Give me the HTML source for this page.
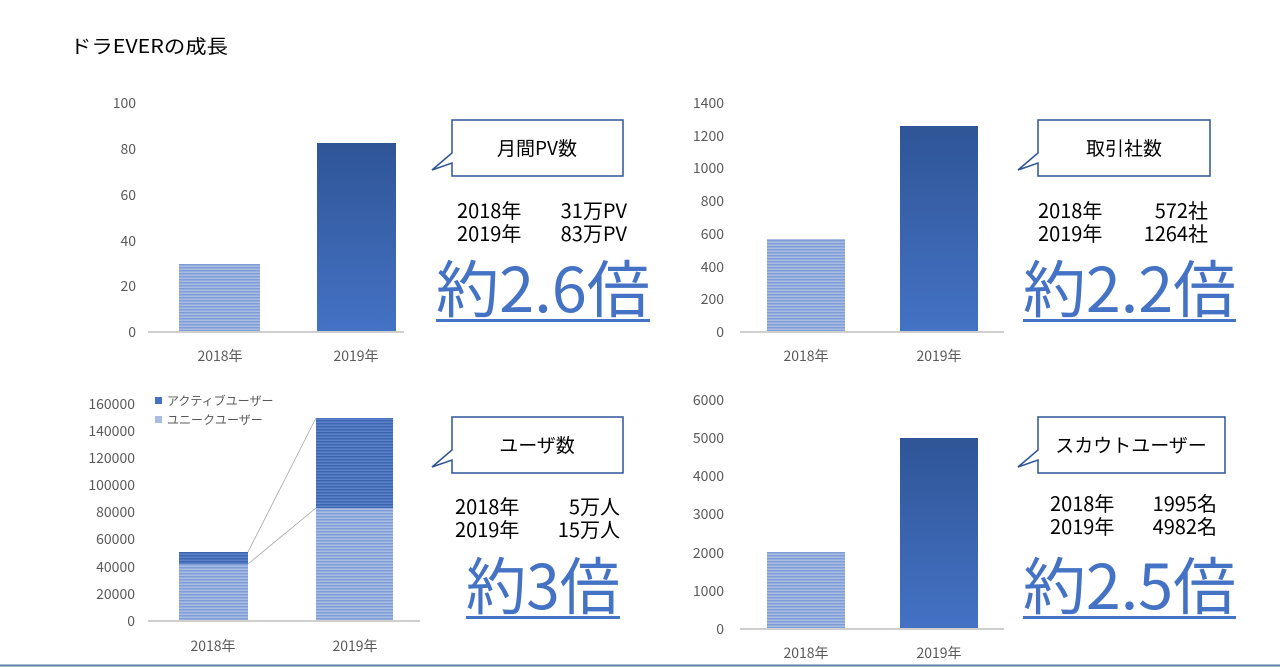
<!DOCTYPE html>
<html><head><meta charset="utf-8"><style>
html,body{margin:0;padding:0;background:#fff;}
svg{display:block;font-family:"Noto Sans CJK JP","Liberation Sans",sans-serif;}
.ax{font-size:14px;fill:#595959;}
.t{font-size:20px;fill:#000;}
.big{font-size:62px;fill:#4472c4;}
.cl{font-size:19px;fill:#000;}
</style></head><body>
<svg width="1280" height="667" viewBox="0 0 1280 667" xmlns="http://www.w3.org/2000/svg">
<defs>
<linearGradient id="dk" x1="0" y1="0" x2="0" y2="1"><stop offset="0" stop-color="#2f5597"/><stop offset="1" stop-color="#4472c4"/></linearGradient>
<pattern id="lt" width="4" height="3" patternUnits="userSpaceOnUse"><rect width="4" height="3" fill="#a9bde3"/><rect width="4" height="1.5" fill="#7f9dd6"/></pattern>
<pattern id="md" width="4" height="3" patternUnits="userSpaceOnUse"><rect width="4" height="3" fill="#5b82c8"/><rect width="4" height="1.5" fill="#3d66b0"/></pattern>
</defs>
<rect width="1280" height="667" fill="#fff"/>
<text x="70" y="53" style="font-size:19px" fill="#000" textLength="158" lengthAdjust="spacingAndGlyphs">ドラEVERの成長</text>
<line x1="0" y1="665.5" x2="1280" y2="665.5" stroke="#5b7fa6" stroke-width="2"/>

<!-- Chart 1 -->
<g class="ax" text-anchor="end">
<text x="136" y="108">100</text><text x="136" y="154">80</text><text x="136" y="200">60</text><text x="136" y="246">40</text><text x="136" y="291">20</text><text x="136" y="337">0</text>
</g>
<line x1="148" y1="332" x2="404" y2="332" stroke="#bfbfbf" stroke-width="1.5"/>
<rect x="179" y="264" width="81" height="67" fill="url(#lt)"/>
<rect x="317" y="143" width="79" height="188" fill="url(#dk)"/>
<g class="ax" text-anchor="middle"><text x="220" y="361">2018年</text><text x="356" y="361">2019年</text></g>
<path d="M452,120 H623 V176 H452 V163 L432,170 L452,153 Z" fill="#fff" stroke="#2f5597" stroke-width="1.5"/>
<text class="cl" x="537" y="155" text-anchor="middle">月間PV数</text>
<text class="t" x="457" y="218">2018年</text><text class="t" x="627" y="218" text-anchor="end">31万PV</text>
<text class="t" x="457" y="241">2019年</text><text class="t" x="627" y="241" text-anchor="end">83万PV</text>
<text class="big" x="436" y="312" textLength="214" lengthAdjust="spacingAndGlyphs">約2.6倍</text>
<rect x="436" y="319" width="214" height="3" fill="#4472c4"/>

<!-- Chart 2 -->
<g class="ax" text-anchor="end">
<text x="724" y="108">1400</text><text x="724" y="141">1200</text><text x="724" y="173">1000</text><text x="724" y="206">800</text><text x="724" y="239">600</text><text x="724" y="272">400</text><text x="724" y="304">200</text><text x="724" y="337">0</text>
</g>
<line x1="740" y1="332" x2="1004" y2="332" stroke="#bfbfbf" stroke-width="1.5"/>
<rect x="767" y="239" width="78" height="92" fill="url(#lt)"/>
<rect x="900" y="126" width="78" height="205" fill="url(#dk)"/>
<g class="ax" text-anchor="middle"><text x="806" y="361">2018年</text><text x="939" y="361">2019年</text></g>
<path d="M1038,120 H1210 V176 H1038 V163 L1018,170 L1038,153 Z" fill="#fff" stroke="#2f5597" stroke-width="1.5"/>
<text class="cl" x="1124" y="155" text-anchor="middle">取引社数</text>
<text class="t" x="1038" y="218">2018年</text><text class="t" x="1208" y="218" text-anchor="end">572社</text>
<text class="t" x="1038" y="241">2019年</text><text class="t" x="1208" y="241" text-anchor="end">1264社</text>
<text class="big" x="1023" y="312" textLength="213" lengthAdjust="spacingAndGlyphs">約2.2倍</text>
<rect x="1023" y="319" width="213" height="3" fill="#4472c4"/>

<!-- Chart 3 -->
<g class="ax" text-anchor="end">
<text x="135" y="409">160000</text><text x="135" y="436">140000</text><text x="135" y="463">120000</text><text x="135" y="490">100000</text><text x="135" y="517">80000</text><text x="135" y="544">60000</text><text x="135" y="572">40000</text><text x="135" y="599">20000</text><text x="135" y="626">0</text>
</g>
<line x1="148" y1="621" x2="420" y2="621" stroke="#bfbfbf" stroke-width="1.5"/>
<rect x="179" y="564" width="69" height="56" fill="url(#lt)"/>
<rect x="179" y="552" width="69" height="12" fill="url(#md)"/>
<rect x="316" y="508" width="77" height="112" fill="url(#lt)"/>
<rect x="316" y="418" width="77" height="90" fill="url(#md)"/>
<line x1="248" y1="552" x2="316" y2="418" stroke="#a6a6a6" stroke-width="0.8"/>
<line x1="248" y1="564" x2="316" y2="508" stroke="#a6a6a6" stroke-width="0.8"/>
<rect x="155" y="397" width="7" height="7" fill="#4472c4"/>
<rect x="155" y="416" width="7" height="7" fill="#a9bde3"/>
<text class="ax" x="167" y="405" style="font-size:12px">アクティブユーザー</text>
<text class="ax" x="167" y="424" style="font-size:12px">ユニークユーザー</text>
<g class="ax" text-anchor="middle"><text x="213" y="651">2018年</text><text x="355" y="651">2019年</text></g>
<path d="M452,417 H623 V473 H452 V460 L432,467 L452,450 Z" fill="#fff" stroke="#2f5597" stroke-width="1.5"/>
<text class="cl" x="537" y="452" text-anchor="middle">ユーザ数</text>
<text class="t" x="455" y="514">2018年</text><text class="t" x="620" y="514" text-anchor="end">5万人</text>
<text class="t" x="455" y="537">2019年</text><text class="t" x="620" y="537" text-anchor="end">15万人</text>
<text class="big" x="466" y="609" textLength="154" lengthAdjust="spacingAndGlyphs">約3倍</text>
<rect x="466" y="616" width="154" height="3" fill="#4472c4"/>

<!-- Chart 4 -->
<g class="ax" text-anchor="end">
<text x="724" y="405">6000</text><text x="724" y="443">5000</text><text x="724" y="481">4000</text><text x="724" y="519">3000</text><text x="724" y="558">2000</text><text x="724" y="596">1000</text><text x="724" y="634">0</text>
</g>
<line x1="740" y1="629" x2="1004" y2="629" stroke="#bfbfbf" stroke-width="1.5"/>
<rect x="767" y="552" width="78" height="76" fill="url(#lt)"/>
<rect x="900" y="438" width="78" height="190" fill="url(#dk)"/>
<g class="ax" text-anchor="middle"><text x="806" y="658">2018年</text><text x="939" y="658">2019年</text></g>
<path d="M1038,417 H1225 V473 H1038 V460 L1018,467 L1038,450 Z" fill="#fff" stroke="#2f5597" stroke-width="1.5"/>
<text class="cl" x="1131" y="452" text-anchor="middle">スカウトユーザー</text>
<text class="t" x="1050" y="511">2018年</text><text class="t" x="1217" y="511" text-anchor="end">1995名</text>
<text class="t" x="1050" y="534">2019年</text><text class="t" x="1217" y="534" text-anchor="end">4982名</text>
<text class="big" x="1023" y="609" textLength="213" lengthAdjust="spacingAndGlyphs">約2.5倍</text>
<rect x="1023" y="616" width="213" height="3" fill="#4472c4"/>
</svg>
</body></html>
